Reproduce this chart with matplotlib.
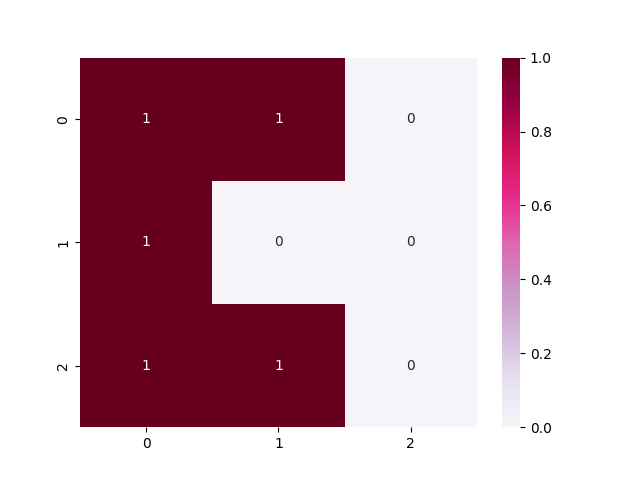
import matplotlib
matplotlib.use("Agg")
import matplotlib.pyplot as plt
import seaborn as sns
import numpy as np

grid = np.array([[1, 1, 0],
                 [1, 0, 0],
                 [1, 1, 0]])

fig, ax = plt.subplots(figsize=(6.4, 4.8))
sns.heatmap(grid, annot=True, cmap="PuRd", ax=ax)
plt.savefig("out.png", dpi=100)
